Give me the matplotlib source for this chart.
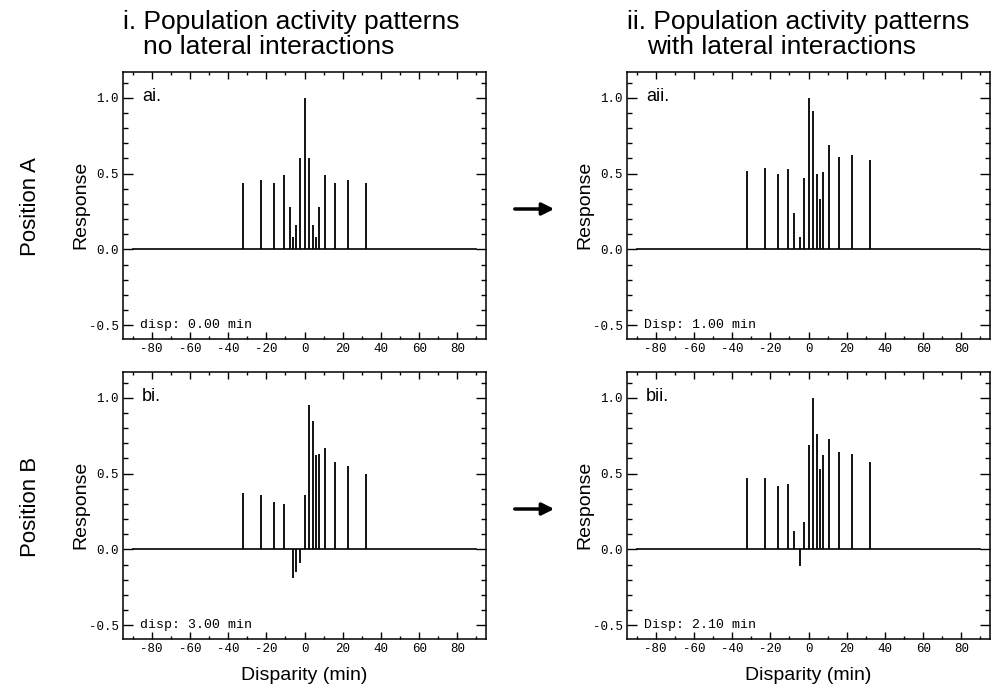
import matplotlib
matplotlib.use('Agg')
import matplotlib.pyplot as plt
from matplotlib.ticker import MultipleLocator

# disparidades preferidas de los detectores (min)
disparidades = [-32.3, -22.7, -16.2, -10.8, -7.6, -6.0, -4.4, -2.2, 0.0,
                2.2, 4.4, 6.0, 7.6, 10.8, 16.2, 22.7, 32.3]

# respuesta de cada detector
resp_ai = [0.44, 0.46, 0.44, 0.49, 0.28, 0.08, 0.16, 0.60, 1.00,
           0.60, 0.16, 0.08, 0.28, 0.49, 0.44, 0.46, 0.44]
resp_aii = [0.52, 0.54, 0.50, 0.53, 0.24, 0.00, 0.08, 0.47, 1.00,
            0.91, 0.50, 0.33, 0.51, 0.69, 0.61, 0.62, 0.59]
resp_bi = [0.37, 0.36, 0.31, 0.30, 0.00, -0.19, -0.15, -0.09, 0.36,
           0.95, 0.85, 0.62, 0.63, 0.67, 0.58, 0.55, 0.50]
resp_bii = [0.47, 0.47, 0.42, 0.43, 0.12, 0.00, -0.11, 0.18, 0.69,
            1.00, 0.76, 0.53, 0.62, 0.73, 0.64, 0.63, 0.58]

base_x = [-90, 90]
xticks = [-80, -60, -40, -20, 0, 20, 40, 60, 80]
yticks = [-0.5, 0.0, 0.5, 1.0]

titulos = [('i. Population activity patterns', 'no lateral interactions'),
           ('ii. Population activity patterns', 'with lateral interactions')]
filas = ['Position A', 'Position B']
etiquetas = [['ai.', 'aii.'], ['bi.', 'bii.']]
textos_disp = [['disp: 0.00 min', 'Disp: 1.00 min'],
               ['disp: 3.00 min', 'Disp: 2.10 min']]
respuestas = [[resp_ai, resp_aii], [resp_bi, resp_bii]]

plt.rcParams['axes.unicode_minus'] = False
plt.rcParams['font.family'] = ['Liberation Sans', 'DejaVu Sans']
MONO = 'Liberation Mono'
W, H = 1002, 694


def caja(x0, y_top, y_bot, ancho=363):
    # pixeles -> fraccion de figura
    return [x0 / W, 1 - y_bot / H, ancho / W, (y_bot - y_top) / H]


def panel(ax, resp, etiqueta, texto):
    ax.vlines(disparidades, 0, resp, color='black', lw=1.3)
    ax.plot(base_x, [0, 0], color='black', lw=1.2)
    ax.set_xlim(-95, 95)
    ax.set_ylim(-0.59, 1.17)
    ax.set_xticks(xticks)
    ax.xaxis.set_minor_locator(MultipleLocator(10))
    ax.set_yticks(yticks)
    ax.set_yticklabels(['%.1f' % v for v in yticks])
    ax.yaxis.set_minor_locator(MultipleLocator(0.1))
    ax.tick_params(axis='both', which='both', direction='in',
                   top=True, right=True, labelsize=9,
                   labelfontfamily=MONO, width=1, pad=3)
    ax.tick_params(axis='x', which='major', length=5)
    ax.tick_params(axis='x', which='minor', length=2.5)
    ax.tick_params(axis='y', which='major', length=7)
    ax.tick_params(axis='y', which='minor', length=3.5)
    for s in ax.spines.values():
        s.set_linewidth(1.1)
    ax.text(0.052, 0.91, etiqueta, transform=ax.transAxes, fontsize=13,
            va='center', ha='left')
    ax.text(0.047, 0.052, texto, transform=ax.transAxes, fontsize=9.5,
            family=MONO, va='center', ha='left')


fig = plt.figure(figsize=(W / 100, H / 100), dpi=100)

izq = [123, 627]
arriba = [72, 372]
for i in range(2):
    for j in range(2):
        ax = fig.add_axes(caja(izq[j], arriba[i], arriba[i] + 267))
        panel(ax, respuestas[i][j], etiquetas[i][j], textos_disp[i][j])
        yc = arriba[i] + 133
        fig.text((izq[j] - 42) / W, 1 - yc / H, 'Response', rotation=90,
                 fontsize=14, ha='center', va='center')
        if i == 1:
            fig.text((izq[j] + 181) / W, 1 - 675 / H, 'Disparity (min)',
                     fontsize=14, ha='center', va='center')
    yc = arriba[i] + 135
    fig.text(30 / W, 1 - yc / H, filas[i], rotation=90, fontsize=16,
             ha='center', va='center')
    # flecha entre columnas
    fig.add_artist(matplotlib.patches.FancyArrowPatch(
        (512 / W, 1 - (yc + 2) / H), (557 / W, 1 - (yc + 2) / H),
        transform=fig.transFigure, arrowstyle='-|>', mutation_scale=18,
        lw=2.5, color='black'))

for j in range(2):
    fig.text(izq[j] / W, 1 - 29 / H, titulos[j][0], fontsize=19,
             ha='left', va='baseline')
    fig.text((izq[j] + 20) / W, 1 - 54 / H, titulos[j][1], fontsize=19,
             ha='left', va='baseline')

fig.savefig('out.png', dpi=100)
